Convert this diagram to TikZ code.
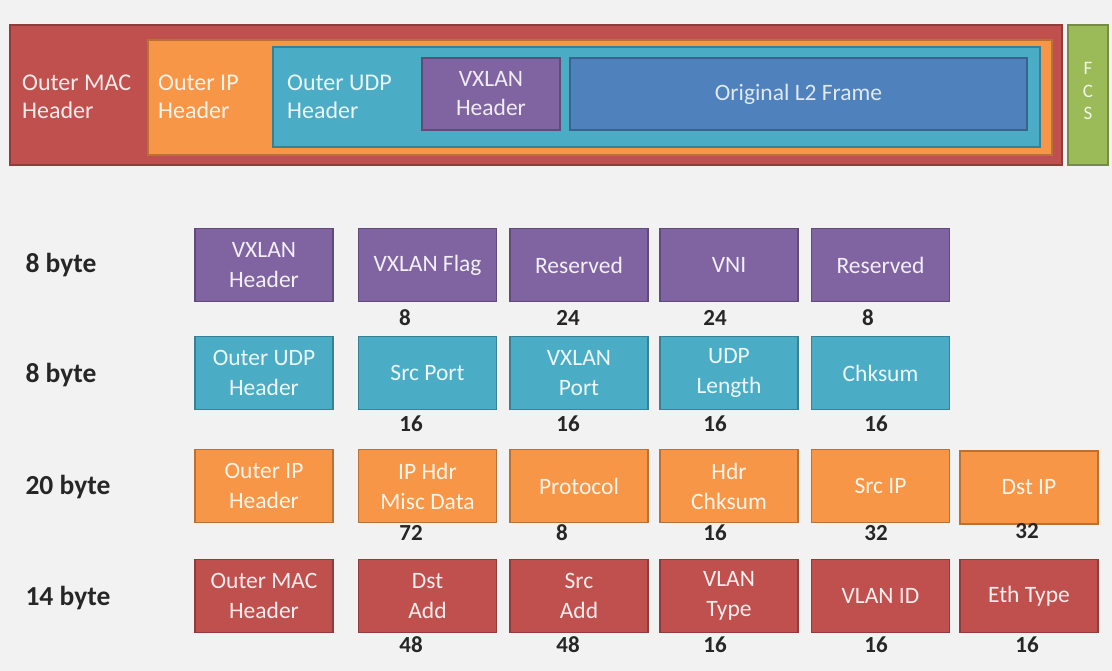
\documentclass[tikz,border=0pt]{standalone}
\usepackage{fontspec}
\setmainfont{Carlito}
\definecolor{bg}{HTML}{F2F2F2}
\definecolor{cred}{HTML}{C0504D}
\definecolor{cora}{HTML}{F79646}
\definecolor{ccya}{HTML}{4BACC6}
\definecolor{cpur}{HTML}{8064A2}
\definecolor{cblu}{HTML}{4F81BD}
\definecolor{cgrn}{HTML}{9BBB59}
\tikzset{
  fld/.style={draw=#1!75!black, fill=#1, line width=1.5pt, minimum width=138pt, minimum height=73pt,
    inner sep=0pt, align=center, text=white!90!#1, font=\fontsize{23.5}{30}\selectfont},
  frm/.style={draw=#1!75!black, fill=#1, line width=1.5pt, inner sep=0pt},
  lbl/.style={anchor=west, font=\bfseries\fontsize{27.5}{30}\selectfont, text=black!85},
  num/.style={font=\bfseries\fontsize{23}{26}\selectfont, text=black!85},
  ttl/.style={align=left, anchor=west, text=white!88!#1, font=\fontsize{24}{28}\selectfont, inner sep=0pt},
}
\begin{document}
\begin{tikzpicture}[x=1pt,y=-1pt]
\fill[bg] (0,0) rectangle (1112,671);
\useasboundingbox (0,0) rectangle (1112,671);
% top frame
\node[frm=cred, minimum width=1052pt, minimum height=140pt] (mac) at (536,95) {};
\node[frm=cora, minimum width=904pt, minimum height=115pt] (ip) at (600,97.5) {};
\node[frm=ccya, minimum width=767pt, minimum height=100pt] (udp) at (656.5,97) {};
\node[frm=cpur, minimum width=138pt, minimum height=72pt, align=center, text=white!88!cpur, font=\fontsize{23.5}{29}\selectfont] (vx) at (491,94) {VXLAN\\Header};
\node[frm=cblu, minimum width=457pt, minimum height=72pt, text=white!82!cblu, font=\fontsize{23.5}{29}\selectfont] (l2) at (798.5,94) {Original L2 Frame};
\node[frm=cgrn, minimum width=40pt, minimum height=140pt] (fcs) at (1088,95) {};
\node[align=center, text=white!85!cgrn, font=\fontsize{19}{22.5}\selectfont, inner sep=0pt] (tfcs) at (1088,91) {F\\C\\S};
\node[ttl=cred] (tmac) at (22,97) {Outer MAC\\Header};
\node[ttl=cora] (tip) at (158,97) {Outer IP\\Header};
\node[ttl=ccya] (tudp) at (287,97) {Outer UDP\\Header};
% row labels
\node[lbl] (r1) at (22,265) {8 byte};
\node[lbl] (r2) at (22,375) {8 byte};
\node[lbl] (r3) at (22,487) {20 byte};
\node[lbl] (r4) at (22,598) {14 byte};
% row 1
\node[fld=cpur] (a1) at (264,265) {VXLAN\\Header};
\node[fld=cpur] (a2) at (427.5,265) {VXLAN Flag};
\node[fld=cpur] (a3) at (579,265) {Reserved};
\node[fld=cpur] (a4) at (729,265) {VNI};
\node[fld=cpur] (a5) at (880.5,265) {Reserved};
\node[num] (na2) at (405,318) {8};
\node[num] (na3) at (568,318) {24};
\node[num] (na4) at (715,318) {24};
\node[num] (na5) at (868,318) {8};
% row 2
\node[fld=ccya] (b1) at (264,373) {Outer UDP\\Header};
\node[fld=ccya] (b2) at (427.5,373) {Src Port};
\node[fld=ccya] (b3) at (579,373) {VXLAN\\Port};
\node[fld=ccya] (b4) at (729,373) {UDP\\Length};
\node[fld=ccya] (b5) at (880.5,373) {Chksum};
\node[num] (nb2) at (411,424) {16};
\node[num] (nb3) at (568,424) {16};
\node[num] (nb4) at (715,424) {16};
\node[num] (nb5) at (876,424) {16};
% row 3
\node[fld=cora] (c1) at (264,486) {Outer IP\\Header};
\node[fld=cora] (c2) at (427.5,486) {IP Hdr\\Misc Data};
\node[fld=cora] (c3) at (579,486) {Protocol};
\node[fld=cora] (c4) at (729,486) {Hdr\\Chksum};
\node[fld=cora] (c5) at (880.5,486) {Src IP};
\node[fld=cora] (c6) at (1029,487.5) {Dst IP};
\node[num] (nc2) at (411,533) {72};
\node[num] (nc3) at (562,533) {8};
\node[num] (nc4) at (715,533) {16};
\node[num] (nc5) at (876,533) {32};
\node[num] (nc6) at (1027,531) {32};
% row 4
\node[fld=cred] (d1) at (264,596) {Outer MAC\\Header};
\node[fld=cred] (d2) at (427.5,596) {Dst\\Add};
\node[fld=cred] (d3) at (579,596) {Src\\Add};
\node[fld=cred] (d4) at (729,596) {VLAN\\Type};
\node[fld=cred] (d5) at (880.5,596) {VLAN ID};
\node[fld=cred] (d6) at (1029,596) {Eth Type};
\node[num] (nd2) at (411,645) {48};
\node[num] (nd3) at (568,645) {48};
\node[num] (nd4) at (715,645) {16};
\node[num] (nd5) at (876,645) {16};
\node[num] (nd6) at (1027,645) {16};
\end{tikzpicture}
\end{document}
